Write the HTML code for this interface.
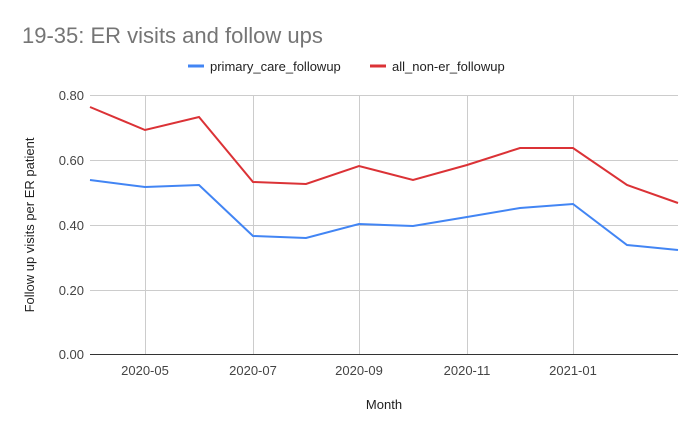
<!DOCTYPE html>
<html><head><style>body{margin:0;background:#fff;font-family:"Liberation Sans",Roboto,sans-serif}</style></head>
<body>
<svg width="700" height="433" xmlns="http://www.w3.org/2000/svg" font-family="Liberation Sans, sans-serif">
<rect width="700" height="433" fill="#fff"/>
<text x="22" y="43" font-size="22" fill="#757575">19-35: ER visits and follow ups</text>
<line x1="188" y1="66" x2="204" y2="66" stroke="#4285f4" stroke-width="3"/>
<text x="210" y="71" font-size="13" fill="#222">primary_care_followup</text>
<line x1="370" y1="66" x2="386" y2="66" stroke="#db3236" stroke-width="3"/>
<text x="392" y="71" font-size="13" fill="#222">all_non-er_followup</text>
<g stroke="#ccc" stroke-width="1">
<line x1="90" y1="95.5" x2="678" y2="95.5"/>
<line x1="90" y1="160.5" x2="678" y2="160.5"/>
<line x1="90" y1="225.5" x2="678" y2="225.5"/>
<line x1="90" y1="290.5" x2="678" y2="290.5"/>
<line x1="145.5" y1="95" x2="145.5" y2="354"/>
<line x1="253.5" y1="95" x2="253.5" y2="354"/>
<line x1="359.5" y1="95" x2="359.5" y2="354"/>
<line x1="467.5" y1="95" x2="467.5" y2="354"/>
<line x1="573.5" y1="95" x2="573.5" y2="354"/>
</g>
<line x1="90" y1="354.5" x2="678" y2="354.5" stroke="#333"/>
<g font-size="13" fill="#444" text-anchor="end">
<text x="84" y="100">0.80</text><text x="84" y="165">0.60</text><text x="84" y="230">0.40</text><text x="84" y="295">0.20</text><text x="84" y="359">0.00</text>
</g>
<g font-size="13" fill="#444" text-anchor="middle">
<text x="145" y="375">2020-05</text><text x="253" y="375">2020-07</text><text x="359" y="375">2020-09</text><text x="467" y="375">2020-11</text><text x="573" y="375">2021-01</text>
<text x="384" y="409" fill="#222">Month</text>
</g>
<text transform="translate(34,225) rotate(-90)" font-size="13" fill="#222" text-anchor="middle">Follow up visits per ER patient</text>
<polyline fill="none" stroke="#db3236" stroke-width="2" points="90,107 145,130 199,117 253,182 306,184 359,166 413,180 467,165 520,148 573,148 627,185 678,203"/>
<polyline fill="none" stroke="#4285f4" stroke-width="2" points="90,180 145,187 199,185 253,236 306,238 359,224 413,226 467,217 520,208 573,204 627,245 678,250"/>
</svg>
</body></html>
